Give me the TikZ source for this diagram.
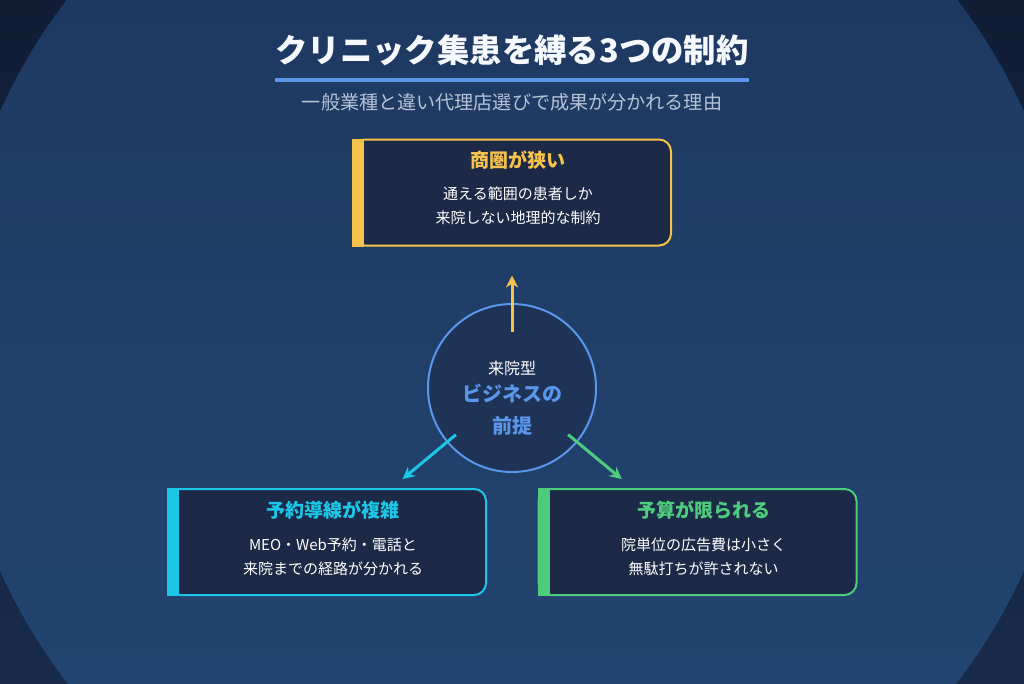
\documentclass[tikz,border=0pt]{standalone}
\usepackage{fontspec}
\setmainfont{Noto Sans CJK JP}
\usepackage{xcolor}
\usetikzlibrary{arrows.meta, positioning, calc}
\definecolor{bgtop}{HTML}{101D35}
\definecolor{bgbot}{HTML}{182B4B}
\definecolor{discttop}{HTML}{1E3961}
\definecolor{discbot}{HTML}{234470}
\definecolor{cardbg}{HTML}{1C2A47}
\definecolor{corebg}{HTML}{1F3356}
\definecolor{ndyellow}{HTML}{F7C24C}
\definecolor{ndcyan}{HTML}{1CC6E8}
\definecolor{ndgreen}{HTML}{4ECC7E}
\definecolor{ndblue}{HTML}{5A96EC}
\definecolor{subgray}{HTML}{B6C2D6}

\begin{document}
\begin{tikzpicture}[x=1pt,y=-1pt,
  card/.style={draw=#1, line width=2pt, fill=cardbg, rounded corners=12pt,
    minimum width=318pt, minimum height=106pt, inner sep=0pt},
  cardhead/.style={text=#1, inner sep=0pt, font=\fontsize{19}{23}\selectfont\bfseries},
  cardtext/.style={text=white, inner sep=0pt, font=\fontsize{15}{18}\selectfont},
  link/.style={draw=#1, line width=3pt, -{Stealth[length=12pt,width=12pt]}}]
  \useasboundingbox (0,0) rectangle (1024,683);
  % background and disc
  \shade[top color=bgtop, bottom color=bgbot] (0,0) rectangle (1024,683);
  \begin{scope}
    \clip (512,341) circle (561);
    \shade[top color=discttop, bottom color=discbot] (0,0) rectangle (1024,683);
  \end{scope}

  \node[text=white!94!ndblue, inner sep=0pt, font=\fontsize{32.4}{38}\selectfont\bfseries]
    (title) at (512,50) {クリニック集患を縛る3つの制約};
  \draw[ndblue, line width=4pt] ($(title.west)+(0,30)$) -- ($(title.east)+(0,30)$);
  \node[text=subgray, inner sep=0pt, font=\fontsize{19.1}{23}\selectfont]
    (subtitle) at (512,102) {一般業種と違い代理店選びで成果が分かれる理由};

  % top card
  \node[card=ndyellow] (area) at (512,192.5) {};
  \fill[ndyellow] (area.north west) rectangle ($(area.south west)+(12,0)$);
  \node[cardhead=ndyellow] (areahead) at ($(area.north)+(6,22)$) {商圏が狭い};
  \node[cardtext] (areaone) at ($(area.north)+(6,55)$) {通える範囲の患者しか};
  \node[cardtext] (areatwo) at ($(area.north)+(6,79)$) {来院しない地理的な制約};

  % left card
  \node[card=ndcyan] (route) at (327,542) {};
  \fill[ndcyan] (route.north west) rectangle ($(route.south west)+(12,0)$);
  \node[cardhead=ndcyan] (routehead) at ($(route.north)+(6,22)$) {予約導線が複雑};
  \node[cardtext] (routeone) at ($(route.north)+(6,57)$) {MEO・Web予約・電話と};
  \node[cardtext] (routetwo) at ($(route.north)+(6,81)$) {来院までの経路が分かれる};

  % right card
  \node[card=ndgreen] (budget) at (697.5,542) {};
  \fill[ndgreen] (budget.north west) rectangle ($(budget.south west)+(12,0)$);
  \node[cardhead=ndgreen] (budgethead) at ($(budget.north)+(6,22)$) {予算が限られる};
  \node[cardtext] (budgetone) at ($(budget.north)+(6,57)$) {院単位の広告費は小さく};
  \node[cardtext] (budgettwo) at ($(budget.north)+(6,81)$) {無駄打ちが許されない};

  % centre
  \node[circle, draw=ndblue, line width=2pt, fill=corebg, minimum size=168pt] (core) at (512,388) {};
  \node[cardtext, font=\fontsize{16}{19}\selectfont] (coreone) at (512,368) {来院型};
  \node[cardhead=ndblue, font=\fontsize{20}{24}\selectfont\bfseries] (coretwo) at (512,393) {ビジネスの};
  \node[cardhead=ndblue, font=\fontsize{20}{24}\selectfont\bfseries] (corethree) at (512,426) {前提};

  \draw[link=ndyellow, shorten <=56pt, shorten >=29pt] (core.center) -- (area);
  \draw[link=ndcyan, shorten <=73pt, shorten >=14pt] (core.center) -- (route);
  \draw[link=ndgreen, shorten <=73pt, shorten >=14pt] (core.center) -- (budget);
\end{tikzpicture}
\end{document}
